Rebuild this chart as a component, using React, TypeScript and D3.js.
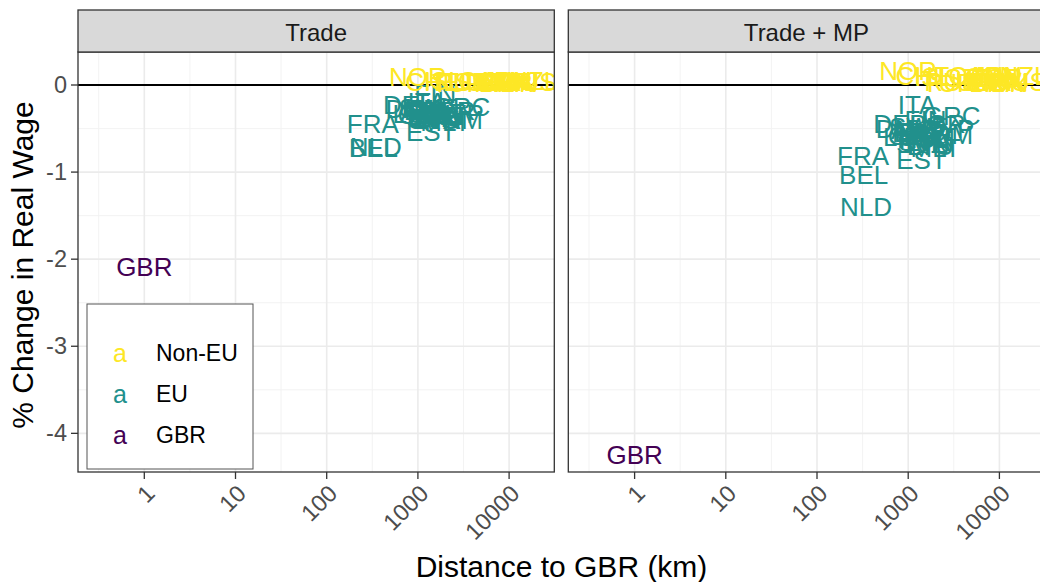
import React from 'react';
import * as d3 from 'd3';

// Facets and legend groups
const facetTitles = ['Trade', 'Trade + MP'];
const groupNames = ['Non-EU', 'EU', 'GBR'];
const groupColors = ['#FDE725', '#21908C', '#440154'];

// EU members: distance to GBR (km) and % change in real wage per scenario
const euCodes = ['FRA', 'BEL', 'NLD', 'IRL', 'DEU', 'DNK', 'LUX', 'ITA', 'FIN', 'ESP', 'PRT', 'AUT', 'CZE', 'POL', 'SWE', 'EST', 'LVA', 'LTU', 'HUN', 'SVK', 'SVN', 'ROM', 'BGR', 'GRC', 'CYP', 'MLT'];
const euDistance = [320, 325, 345, 1100, 830, 880, 1000, 1250, 1550, 1350, 1700, 1250, 1150, 1450, 1300, 1400, 1650, 1750, 1600, 1500, 1450, 2400, 2100, 3000, 2700, 2000];
const euTrade = [-0.45, -0.72, -0.71, -0.28, -0.23, -0.27, -0.33, -0.2, -0.1, -0.3, -0.32, -0.3, -0.35, -0.33, -0.26, -0.54, -0.4, -0.38, -0.36, -0.4, -0.38, -0.4, -0.3, -0.25, -0.33, -0.42];
const euTradeMP = [-0.82, -1.03, -1.4, -0.55, -0.45, -0.5, -0.6, -0.23, -0.4, -0.55, -0.6, -0.52, -0.58, -0.62, -0.48, -0.86, -0.66, -0.7, -0.62, -0.65, -0.68, -0.57, -0.45, -0.36, -0.5, -0.72];

// Non-EU partners
const nonEuCodes = ['NOR', 'CHE', 'ISL', 'TUR', 'RUS', 'ISR', 'CAN', 'USA', 'MEX', 'BRA', 'ZAF', 'IND', 'CHN', 'KOR', 'JPN', 'TWN', 'IDN', 'AUS', 'NZL'];
const nonEuDistance = [1000, 1450, 1900, 2800, 3000, 3600, 5500, 6500, 8900, 9200, 9300, 7200, 8500, 8900, 9500, 9800, 11700, 16900, 18600];
const nonEuTrade = [0.09, 0.04, 0.05, 0.02, 0.03, 0.04, 0.05, 0.04, 0.03, 0.02, 0.03, 0.02, 0.03, 0.04, 0.05, 0.03, 0.02, 0.04, 0.05];
const nonEuTradeMP = [0.16, 0.1, 0.09, 0.02, 0.03, 0.08, 0.1, 0.04, 0.03, 0.02, 0.08, 0.03, 0.09, 0.08, 0.1, 0.04, 0.02, 0.03, 0.1];

// United Kingdom itself
const gbrDistance = 1;
const gbrTrade = -2.09;
const gbrTradeMP = -4.25;

const xTicks = [1, 10, 100, 1000, 10000];
const xMinor = [0.316, 3.16, 31.6, 316, 3162, 31623];
const yTicks = [0, -1, -2, -3, -4];
const yMinor = [-0.5, -1.5, -2.5, -3.5];

const W = 1040;
const H = 582;
const panelTop = 52;
const panelBottom = 472;
const stripTop = 10;
const panelWidth = 476.3;
const panelLefts = [78, 568.3];

const FONT = '"Liberation Sans", Arial, Helvetica, sans-serif';

type Pt = { code: string; d: number; v: number; color: string };

function buildPoints(facet: number): Pt[] {
  const pts: Pt[] = [];
  euCodes.forEach((c, i) => pts.push({ code: c, d: euDistance[i], v: facet === 0 ? euTrade[i] : euTradeMP[i], color: groupColors[1] }));
  nonEuCodes.forEach((c, i) => pts.push({ code: c, d: nonEuDistance[i], v: facet === 0 ? nonEuTrade[i] : nonEuTradeMP[i], color: groupColors[0] }));
  pts.push({ code: 'GBR', d: gbrDistance, v: facet === 0 ? gbrTrade : gbrTradeMP, color: groupColors[2] });
  return pts;
}

const y = d3.scaleLinear().domain([0.379, -4.444]).range([panelTop, panelBottom]);

function Panel({ idx }: { idx: number }) {
  const left = panelLefts[idx];
  const x = d3.scaleLog().domain([0.1875, 31300]).range([left, left + panelWidth]);
  const pts = buildPoints(idx);
  const clipId = `clip-${idx}`;
  const cx = left + panelWidth / 2;
  return (
    <g>
      <defs>
        <clipPath id={clipId}>
          <rect x={left} y={panelTop} width={panelWidth} height={panelBottom - panelTop} />
        </clipPath>
      </defs>
      <rect x={left} y={panelTop} width={panelWidth} height={panelBottom - panelTop} fill="#FFFFFF" />
      <g clipPath={`url(#${clipId})`}>
        {xMinor.map((t) => (
          <line key={`xm${t}`} x1={x(t)} x2={x(t)} y1={panelTop} y2={panelBottom} stroke="#F2F2F2" strokeWidth={0.9} />
        ))}
        {yMinor.map((t) => (
          <line key={`ym${t}`} x1={left} x2={left + panelWidth} y1={y(t)} y2={y(t)} stroke="#F2F2F2" strokeWidth={0.9} />
        ))}
        {xTicks.map((t) => (
          <line key={`xg${t}`} x1={x(t)} x2={x(t)} y1={panelTop} y2={panelBottom} stroke="#EBEBEB" strokeWidth={1.6} />
        ))}
        {yTicks.map((t) => (
          <line key={`yg${t}`} x1={left} x2={left + panelWidth} y1={y(t)} y2={y(t)} stroke="#EBEBEB" strokeWidth={1.6} />
        ))}
        <line x1={left} x2={left + panelWidth} y1={y(0)} y2={y(0)} stroke="#000" strokeWidth={2} />
        {pts.map((p) => (
          <text
            key={p.code}
            x={x(p.d)}
            y={y(p.v)}
            fill={p.color}
            fontSize={26}
            fontFamily={FONT}
            textAnchor="middle"
            dominantBaseline="central"
          >
            {p.code}
          </text>
        ))}
      </g>
      <rect x={left} y={panelTop} width={panelWidth} height={panelBottom - panelTop} fill="none" stroke="#333333" strokeWidth={1.3} />
      {/* facet strip */}
      <rect x={left} y={stripTop} width={panelWidth} height={panelTop - stripTop} fill="#D9D9D9" stroke="#333333" strokeWidth={1.3} />
      <text x={cx} y={(stripTop + panelTop) / 2 + 1} textAnchor="middle" dominantBaseline="central" fontSize={24} fontFamily={FONT} fill="#1A1A1A">
        {facetTitles[idx]}
      </text>
      {/* x axis */}
      {xTicks.map((t) => (
        <g key={`xt${t}`}>
          <line x1={x(t)} x2={x(t)} y1={panelBottom} y2={panelBottom + 7} stroke="#333333" strokeWidth={1.3} />
          <text
            transform={`translate(${x(t) + 12},${panelBottom + 23}) rotate(-45)`}
            textAnchor="end"
            fontSize={23.5}
            fontFamily={FONT}
            fill="#4D4D4D"
          >
            {String(t)}
          </text>
        </g>
      ))}
    </g>
  );
}

function Legend() {
  const bx = 87;
  const by = 304;
  const rows = [353, 394, 435];
  return (
    <g>
      <rect x={bx} y={by} width={166} height={165} fill="#FFFFFF" stroke="#555555" strokeWidth={1} />
      {groupNames.map((g, i) => (
        <g key={g}>
          <text x={120} y={rows[i]} textAnchor="middle" dominantBaseline="central" fontSize={25} fontFamily={FONT} fill={groupColors[i]}>
            a
          </text>
          <text x={156} y={rows[i]} dominantBaseline="central" fontSize={23} fontFamily={FONT} fill="#000000">
            {g}
          </text>
        </g>
      ))}
    </g>
  );
}

export default function App() {
  return (
    <svg width={W} height={H} style={{ position: 'absolute', left: 0, top: 0, background: '#FFFFFF' }}>
      <rect x={0} y={0} width={W} height={H} fill="#FFFFFF" />
      <Panel idx={0} />
      <Panel idx={1} />
      <Legend />
      {/* y axis */}
      {yTicks.map((t) => (
        <g key={`yt${t}`}>
          <line x1={71} x2={78} y1={y(t)} y2={y(t)} stroke="#333333" strokeWidth={1.3} />
          <text x={67} y={y(t)} textAnchor="end" dominantBaseline="central" fontSize={23.5} fontFamily={FONT} fill="#4D4D4D">
            {t === 0 ? '0' : String(t)}
          </text>
        </g>
      ))}
      <text
        transform={`translate(22,${(panelTop + panelBottom) / 2 + 3}) rotate(-90)`}
        textAnchor="middle"
        dominantBaseline="central"
        fontSize={30}
        fontFamily={FONT}
        fill="#000000"
      >
        % Change in Real Wage
      </text>
      <text x={561.5} y={577} textAnchor="middle" fontSize={30} fontFamily={FONT} fill="#000000">
        Distance to GBR (km)
      </text>
    </svg>
  );
}
